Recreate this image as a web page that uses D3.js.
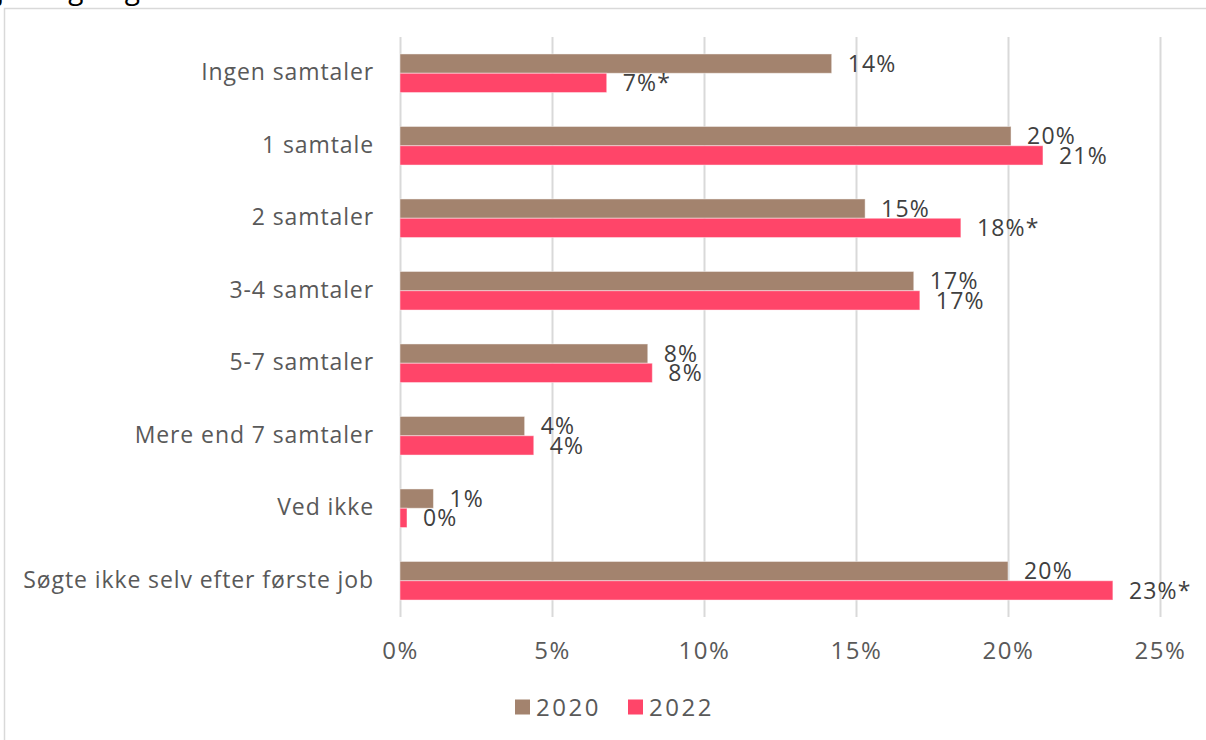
<!DOCTYPE html>
<html>
<head>
<meta charset="utf-8">
<script src="https://cdn.jsdelivr.net/npm/d3@7"></script>
<style>
  body { margin: 0; background: #fff; }
  svg { display: block; }
  text { font-family: "Open Sans", Lato, sans-serif; fill: #595959; }
</style>
</head>
<body>
<div id="chart"></div>
<script>
// categories (top to bottom)
const categories = [
	"Ingen samtaler",
	"1 samtale",
	"2 samtaler",
	"3-4 samtaler",
	"5-7 samtaler",
	"Mere end 7 samtaler",
	"Ved ikke",
	"Søgte ikke selv efter første job"
];
const seriesNames = ["2020", "2022"];
// percent values
const values2020 = [14.2, 20.1, 15.3, 16.9, 8.15, 4.1, 1.1, 20.0];
const values2022 = [6.8, 21.15, 18.45, 17.1, 8.3, 4.4, 0.23, 23.45];
// asterisk = significant change
const signif2022 = [true, false, true, false, false, false, false, true];
const xTicks = [0, 5, 10, 15, 20, 25];
const colors = ["#a3836e", "#ff4569"];

const width = 1206, height = 740;
const plot = {left: 400, right: 1160, top: 37, bottom: 617};

const svg = d3.select("#chart").append("svg")
	.attr("width", width)
	.attr("height", height);

// cut off title above the frame (only descenders visible)
svg.append("text")
	.attr("x", -3)
	.attr("y", -1)
	.style("font-size", "28px")
	.style("fill", "#000")
	.text("jobsøgning");

// frame
svg.append("path")
	.attr("d", "M4.5,740 V8.5 H1206")
	.style("fill", "none")
	.style("stroke", "#d9d9d9")
	.style("stroke-width", 1.5);

const x = d3.scaleLinear()
	.domain([0, 25])
	.range([plot.left, plot.right]);

const y0 = d3.scaleBand()
	.domain(categories)
	.range([plot.top, plot.bottom])
	.paddingInner(0.468)
	.paddingOuter(0.234);

const y1 = d3.scaleBand()
	.domain(seriesNames)
	.range([0, y0.bandwidth()]);

//gridlines + tick labels
const xAxis = svg.append("g")
	.attr("transform", "translate(0," + plot.bottom + ")")
	.call(d3.axisBottom(x)
		.tickValues(xTicks)
		.tickFormat(function(d) { return d + "%"; })
		.tickSize(-(plot.bottom - plot.top))
		.tickPadding(25));
xAxis.select(".domain").remove();
xAxis.selectAll(".tick line")
	.style("stroke", "#d9d9d9")
	.style("stroke-width", 2);
xAxis.selectAll(".tick text")
	.style("font-size", "24px")
	.style("letter-spacing", "1.5px")
	.style("fill", "#595959")
	.style("font-family", "\"Open Sans\", sans-serif");

// category labels
svg.append("g").selectAll("text")
	.data(categories)
	.enter().append("text")
	.attr("x", plot.left - 26)
	.attr("y", function(d) { return y0(d) + y0.bandwidth() / 2; })
	.attr("dy", "0.3em")
	.attr("text-anchor", "end")
	.style("font-size", "23px")
	.style("letter-spacing", "0.9px")
	.text(function(d) { return d; });

// bars
const rows = categories.map(function(c, i) {
	return [
		{cat: c, series: "2020", value: values2020[i], star: false},
		{cat: c, series: "2022", value: values2022[i], star: signif2022[i]}
	];
});

const groups = svg.append("g").selectAll("g")
	.data(rows)
	.enter().append("g")
	.attr("transform", function(d) { return "translate(0," + y0(d[0].cat) + ")"; });

groups.selectAll("rect")
	.data(function(d) { return d; })
	.enter().append("rect")
	.attr("x", x(0))
	.attr("y", function(d) { return y1(d.series); })
	.attr("width", function(d) { return x(d.value) - x(0); })
	.attr("height", y1.bandwidth())
	.style("fill", function(d) { return colors[seriesNames.indexOf(d.series)]; })
	.style("stroke", "#fff")
	.style("stroke-opacity", 0.45)
	.style("stroke-width", 1);

groups.selectAll("text")
	.data(function(d) { return d; })
	.enter().append("text")
	.attr("x", function(d) { return x(d.value) + 16; })
	.attr("y", function(d) { return y1(d.series) + y1.bandwidth() / 2; })
	.attr("dy", "0.36em")
	.style("font-size", "23px")
	.style("letter-spacing", "1.2px")
	.style("fill", "#404040")
	.text(function(d) { return Math.round(d.value) + "%" + (d.star ? "*" : ""); });

// legend
const legend = svg.append("g")
	.attr("transform", "translate(515,707)");
const legendItems = legend.selectAll("g")
	.data(seriesNames)
	.enter().append("g")
	.attr("transform", function(d, i) { return "translate(" + (i * 113) + ",0)"; });
legendItems.append("rect")
	.attr("x", 0)
	.attr("y", -7.5)
	.attr("width", 15)
	.attr("height", 15)
	.style("fill", function(d, i) { return colors[i]; });
legendItems.append("text")
	.attr("x", 21)
	.attr("y", 0)
	.attr("dy", "0.36em")
	.style("font-size", "24px")
	.style("letter-spacing", "2.5px")
	.text(function(d) { return d; });
</script>
</body>
</html>
